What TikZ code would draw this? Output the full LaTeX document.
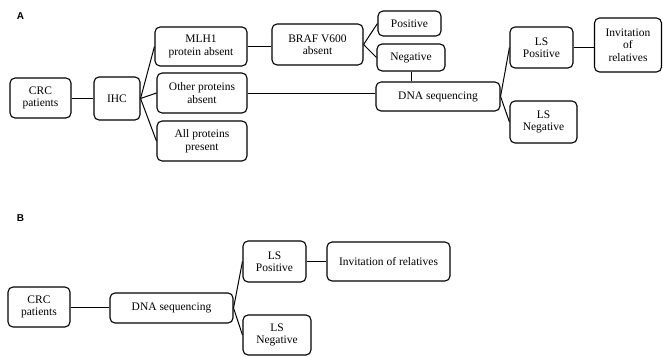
\documentclass[tikz,border=0pt]{standalone}
\usepackage{fontspec}
\setmainfont{Liberation Serif}
\newfontfamily\panelfont{Liberation Sans}
\usetikzlibrary{positioning,calc}

\begin{document}
\begin{tikzpicture}[
    x=1pt, y=-1pt,
    box/.style={draw, rounded corners=5pt, line width=1.1pt, align=center, inner sep=0,
        font=\fontsize{11.5}{12.5}\selectfont},
    link/.style={draw, line width=1pt},
    panel/.style={font=\panelfont\bfseries\fontsize{10}{12}\selectfont, inner sep=0}]
\useasboundingbox (0,0) rectangle (663,356);

% panel A
\node[panel] (labA) at (20.5,16.5) {A};
\node[box, minimum width=61, minimum height=40] (crcA) at (40.5,98) {CRC\\patients};
\node[box, minimum width=46, minimum height=43] (ihc) at (117,98.5) {IHC};
\node[box, minimum width=92, minimum height=39] (mlh) at (201,46.5) {MLH1\\protein absent};
\node[box, minimum width=90, minimum height=40] (oth) at (202,93) {Other proteins\\absent};
\node[box, minimum width=90, minimum height=40] (all) at (202,141) {All proteins\\present};
\node[box, minimum width=91, minimum height=41] (braf) at (317.5,44.5) {BRAF V600\\absent};
\node[box, minimum width=63, minimum height=25] (pos) at (409.5,23.5) {Positive};
\node[box, minimum width=68, minimum height=27] (neg) at (411,57.5) {Negative};
\node[box, minimum width=124, minimum height=29] (dnaA) at (438,96.5) {DNA sequencing};
\node[box, minimum width=63, minimum height=41] (lspA) at (541.5,47.5) {LS\\Positive};
\node[box, minimum width=67, minimum height=42] (lsnA) at (543.5,122) {LS\\Negative};
\node[box, minimum width=67, minimum height=54] (invA) at (628,45) {Invitation\\of\\relatives};

\path[link] (crcA.east) -- (crcA.east -| ihc.west);
\path[link] (ihc.east) -- (mlh.west);
\path[link] (ihc.east) -- (oth.west);
\path[link] (ihc.east) -- (all.west);
\path[link] (mlh.east) -- (mlh.east -| braf.west);
\path[link] (braf.east) -- (pos.west);
\path[link] (braf.east) -- (neg.west);
\path[link] (oth.east) -- (oth.east -| dnaA.west);
\path[link] (neg.south) -- (neg.south |- dnaA.north);
\path[link] (dnaA.east) -- (lspA.west);
\path[link] (dnaA.east) -- (lsnA.west);
\path[link] (lspA.east) -- (lspA.east -| invA.west);

% panel B
\node[panel] (labB) at (20.5,218) {B};
\node[box, minimum width=62, minimum height=40] (crcB) at (39,307) {CRC\\patients};
\node[box, minimum width=123, minimum height=30] (dnaB) at (171.5,308) {DNA sequencing};
\node[box, minimum width=63, minimum height=41] (lspB) at (274.5,261.5) {LS\\Positive};
\node[box, minimum width=68, minimum height=40] (lsnB) at (277,335) {LS\\Negative};
\node[box, minimum width=123, minimum height=39] (invB) at (388.5,261.5) {Invitation of relatives};

\path[link] (crcB.east) -- (crcB.east -| dnaB.west);
\path[link] (dnaB.east) -- (lspB.west);
\path[link] (dnaB.east) -- (lsnB.west);
\path[link] (lspB.east) -- (lspB.east -| invB.west);

\end{tikzpicture}
\end{document}
